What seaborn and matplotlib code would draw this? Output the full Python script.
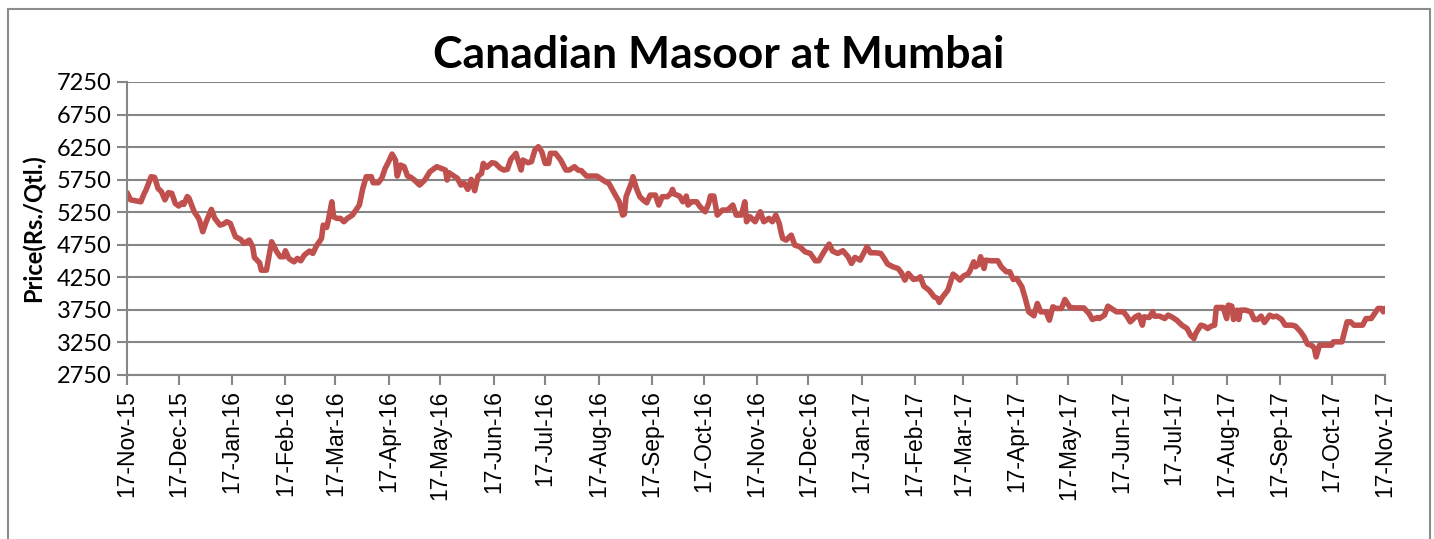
import numpy as np
import pandas as pd
import matplotlib
matplotlib.use("Agg")
import matplotlib.pyplot as plt
import matplotlib.dates as mdates
from matplotlib.patches import Rectangle
import seaborn as sns

# ---- data (days after 17-Nov-2015, price Rs./Qtl.) ----
start_date = "2015-11-17"
days = [0, 2, 8, 10, 11, 14, 16, 18, 20, 22, 24, 26, 28, 30, 32, 33, 35, 36, 39, 41,
        42, 44, 46, 49, 51, 54, 56, 58, 60, 63, 66, 68, 71, 73, 74, 77, 78, 81, 84, 87,
        89, 91, 92, 94, 97, 99, 101, 103, 106, 108, 110, 113, 114, 116, 117, 119, 120, 122, 124, 126,
        128, 131, 133, 135, 137, 139, 142, 143, 146, 148, 150, 152, 154, 156, 157, 159, 161, 163, 165, 167,
        170, 173, 176, 180,
        185, 186, 187, 190, 192, 194, 196, 198, 200, 202, 204, 206, 207, 209, 212, 214, 217, 219, 221, 223,
        226, 227, 229, 230, 233, 235, 237, 239, 241, 243, 245, 246, 249, 252, 255, 257, 260, 262, 264, 267,
        269, 273, 275, 278, 280, 283, 286, 288, 289, 290, 293, 294, 296, 298, 300, 302, 304, 307, 309, 311,
        314, 316, 317, 318, 321, 323, 325, 326, 328, 331, 333, 336, 338, 339, 341, 343, 346, 349, 350, 352,
        354, 357, 359, 360, 362, 365,
        368, 370, 373, 375, 377, 379, 380, 381, 383, 386, 388, 391, 394, 397, 400, 402, 405, 408, 410, 413,
        416, 419, 421, 423, 426, 428, 430, 432, 435, 438, 440, 442, 445, 448, 450, 452, 454, 457, 460, 461,
        463, 466, 469, 471, 472, 474, 477, 480, 482, 484, 486, 489, 490, 492, 493, 495, 496, 498, 499, 502,
        506, 508, 511, 513, 515, 517, 520, 522, 524, 527, 529, 531, 534, 536, 538, 540, 543, 545, 548,
        551, 556, 559, 561, 564, 565, 568, 570, 572, 575, 579, 581, 583, 586, 588, 590, 591, 594, 596, 597,
        600, 603, 605, 607, 610, 613, 616, 618, 620, 621, 624, 626, 628, 630, 632, 633, 637, 639, 640, 642,
        643, 645, 646, 647, 650, 653, 655, 657, 659, 661, 664, 666, 668, 671, 673, 677, 679, 682, 684, 686,
        688, 689, 690, 691, 693, 695, 700, 701, 704, 706, 707, 709, 711, 713, 716, 718, 720, 723, 725, 727,
        729, 730, 731]
prices = [5550, 5440, 5410, 5540, 5590, 5795, 5785, 5615, 5565, 5440, 5550, 5540, 5385, 5345, 5395, 5370, 5490, 5465, 5257, 5180,
          5130, 4950, 5104, 5293, 5155, 5052, 5068, 5104, 5078, 4873, 4832, 4770, 4822, 4719, 4555, 4473, 4360, 4360, 4796, 4642,
          4566, 4566, 4658, 4540, 4488, 4540, 4504, 4591, 4653, 4617, 4730, 4847, 5052, 5016, 5130, 5410, 5180, 5155, 5155, 5104,
          5155, 5206, 5283, 5360, 5615, 5795, 5795, 5703, 5703, 5770, 5923, 6026, 6143, 6051, 5805, 5974, 5949, 5805, 5785, 5744,
          5667, 5744, 5872, 5949,
          5898, 5744, 5857, 5805, 5770, 5667, 5693, 5600, 5754, 5580, 5805, 5846, 6000, 5939, 6010, 6000, 5923, 5898, 5908, 6061,
          6154, 6061, 5898, 6051, 6010, 6026, 6205, 6256, 6179, 6000, 6000, 6154, 6154, 6051, 5898, 5898, 5949, 5898, 5888, 5805,
          5805, 5805, 5770, 5719, 5693, 5549, 5410, 5206, 5220, 5488, 5693, 5795, 5615, 5488, 5436, 5395, 5513, 5513, 5360, 5488,
          5488, 5539, 5600, 5529, 5498, 5410, 5498, 5360, 5410, 5410, 5334, 5257, 5385, 5498, 5498, 5206, 5283, 5283, 5309, 5360,
          5206, 5206, 5410, 5104, 5180, 5104,
          5257, 5104, 5155, 5104, 5206, 5078, 4950, 4847, 4822, 4898, 4745, 4719, 4642, 4617, 4504, 4504, 4642, 4760, 4653, 4617,
          4658, 4566, 4463, 4555, 4514, 4617, 4719, 4627, 4627, 4617, 4540, 4453, 4412, 4386, 4320, 4207, 4310, 4217, 4232, 4258,
          4115, 4053, 3951, 3925, 3864, 3951, 4053, 4299, 4258, 4207, 4268, 4310, 4360, 4488, 4412, 4453, 4566, 4386, 4514, 4504,
          4504, 4412, 4335, 4335, 4217, 4232, 4105, 3925, 3720, 3659, 3848, 3720, 3720, 3592, 3797, 3772, 3772, 3910, 3787,
          3780, 3780, 3695, 3602, 3633, 3617, 3669, 3807, 3772, 3720, 3720, 3654, 3566, 3643, 3669, 3515, 3643, 3633, 3720, 3654,
          3654, 3617, 3669, 3643, 3592, 3515, 3464, 3362, 3310, 3387, 3515, 3500, 3464, 3500, 3515, 3787, 3787, 3617, 3823, 3807,
          3602, 3746, 3602, 3746, 3746, 3720, 3602, 3602, 3654, 3556, 3669, 3643, 3654, 3602, 3515, 3515, 3500, 3413, 3336, 3223,
          3208, 3192, 3156, 3028, 3208, 3208, 3208, 3259, 3259, 3259, 3362, 3566, 3566, 3515, 3515, 3515, 3617, 3617, 3695, 3772,
          3772, 3720, 3772]
y_ticks = [2750, 3250, 3750, 4250, 4750, 5250, 5750, 6250, 6750, 7250]
x_tick_labels = ["17-Nov-15", "17-Dec-15", "17-Jan-16", "17-Feb-16", "17-Mar-16", "17-Apr-16",
                 "17-May-16", "17-Jun-16", "17-Jul-16", "17-Aug-16", "17-Sep-16", "17-Oct-16",
                 "17-Nov-16", "17-Dec-16", "17-Jan-17", "17-Feb-17", "17-Mar-17", "17-Apr-17",
                 "17-May-17", "17-Jun-17", "17-Jul-17", "17-Aug-17", "17-Sep-17", "17-Oct-17",
                 "17-Nov-17"]
title = "Canadian Masoor at Mumbai"
y_label = "Price(Rs./Qtl.)"

df = pd.DataFrame({
    "Date": pd.Timestamp(start_date) + pd.to_timedelta(days, unit="D"),
    "Price": prices,
})
tick_dates = [pd.Timestamp(pd.to_datetime(s, format="%d-%b-%y")) for s in x_tick_labels]

sns.set_style("white")
plt.rcParams["font.family"] = ["Lato", "DejaVu Sans"]
plt.rcParams["text.color"] = "black"
plt.rcParams["axes.labelcolor"] = "black"
plt.rcParams["xtick.color"] = "black"
plt.rcParams["ytick.color"] = "black"

fig = plt.figure(figsize=(14.34, 5.39), dpi=100)
ax = fig.add_axes([0.0886, 0.3043, 0.8772, 0.5436])

grid_col = "#868686"
sns.lineplot(data=df, x="Date", y="Price", ax=ax, color="#C0504D", linewidth=4.0)

ax.set_xlim(tick_dates[0], tick_dates[-1])
ax.set_ylim(y_ticks[0], y_ticks[-1])
ax.set_yticks(y_ticks)
ax.set_yticklabels([str(v) for v in y_ticks], fontsize=17, family=["Lato", "DejaVu Sans"],
                   color="black")
ax.set_xticks(tick_dates)
ax.set_xticklabels(x_tick_labels, rotation=90, fontsize=16.5,
                   family=["Liberation Sans", "DejaVu Sans"], color="black")

for v in y_ticks:
    ax.axhline(v, color=grid_col, linewidth=1.5, zorder=0)

for s in ["top", "right"]:
    ax.spines[s].set_visible(False)
for s in ["left", "bottom"]:
    ax.spines[s].set_color(grid_col)
    ax.spines[s].set_linewidth(1.5)

ax.tick_params(axis="x", direction="out", length=7, width=1.5, color=grid_col, pad=4)
ax.tick_params(axis="y", direction="out", length=7, width=1.5, color=grid_col, pad=4)
ax.tick_params(bottom=True, left=True)

ax.set_xlabel("")
ax.set_ylabel(y_label, fontsize=17, fontweight="bold", color="black")
ax.yaxis.set_label_coords(-0.065, 0.5)
fig.text(719 / 1434, 1 - 55 / 539, title, fontsize=32, fontweight="bold",
         ha="center", va="center", color="black")

fig.patches.append(Rectangle((8 / 1434, -0.1), 1422 / 1434, 1.1 - 9 / 539,
                             transform=fig.transFigure, fill=False,
                             edgecolor="#8c8c8c", linewidth=1.5))

fig.savefig("out.png", dpi=100)
